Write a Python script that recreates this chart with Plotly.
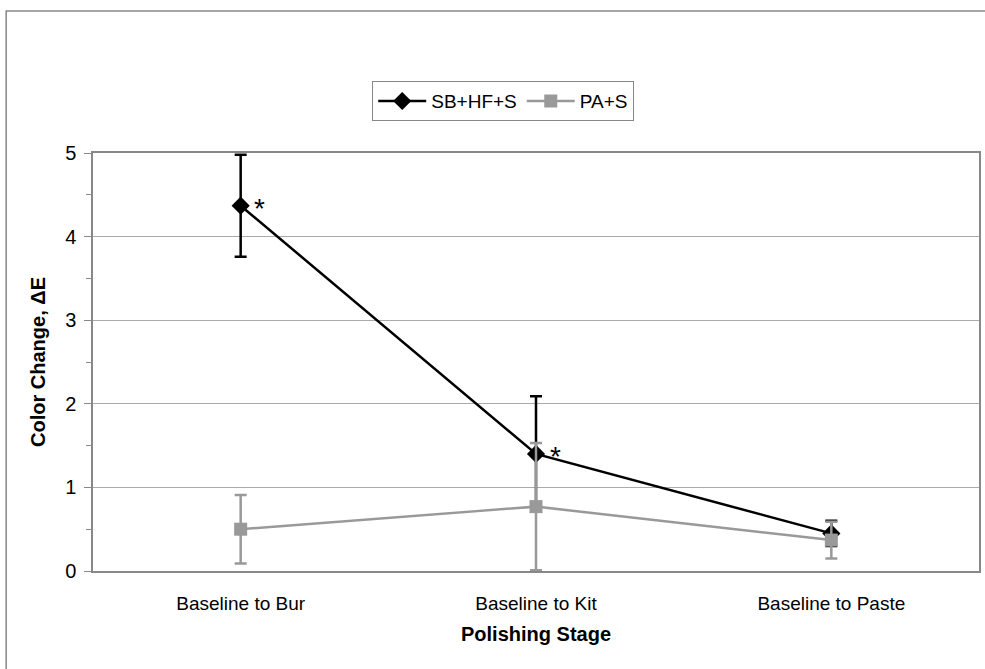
import plotly.graph_objects as go

categories = ["Baseline to Bur", "Baseline to Kit", "Baseline to Paste"]
sb_values = [4.37, 1.40, 0.45]
sb_errors = [0.61, 0.69, 0.15]
pa_values = [0.50, 0.77, 0.37]
pa_errors = [0.41, 0.76, 0.22]
sig_marks = ["*", "*", ""]
y_ticks = [0, 1, 2, 3, 4, 5]

FONT = "Liberation Sans, Arial, sans-serif"
GRAY = "#999999"

fig = go.Figure()
fig.add_trace(go.Scatter(
    x=categories, y=sb_values, name="SB+HF+S", mode="lines+markers",
    line=dict(color="black", width=2.5),
    marker=dict(symbol="diamond", size=14, color="black"),
    error_y=dict(type="data", array=sb_errors, visible=True, color="black", thickness=2.5, width=6),
))
fig.add_trace(go.Scatter(
    x=categories, y=pa_values, name="PA+S", mode="lines+markers",
    line=dict(color=GRAY, width=2.5),
    marker=dict(symbol="square", size=13, color=GRAY),
    error_y=dict(type="data", array=pa_errors, visible=True, color=GRAY, thickness=2.5, width=6),
))

for c, v, m in zip(categories, sb_values, sig_marks):
    if m:
        fig.add_annotation(x=c, y=v, text=m, showarrow=False, xshift=19, yshift=-3,
                           font=dict(family=FONT, size=28, color="black"))

# outer frame
fig.add_shape(type="rect", xref="paper", yref="paper", x0=-0.098, x1=1.2, y0=-0.6, y1=1.34,
              line=dict(color="#888888", width=1.5), layer="below")

fig.update_layout(
    width=985, height=669,
    margin=dict(l=93, r=4, t=153, b=98),
    paper_bgcolor="white", plot_bgcolor="white",
    font=dict(family=FONT, size=19, color="black"),
    showlegend=True,
    legend=dict(orientation="h", x=0.463, y=1.124, xanchor="center", yanchor="middle",
                bordercolor="#888888", borderwidth=1, font=dict(size=19),
                itemwidth=48, traceorder="normal"),
    xaxis=dict(
        range=[-0.5, 2.5], showgrid=False, showline=True, linecolor="#888888", linewidth=1.5,
        mirror=True, ticks="", tickfont=dict(size=19), ticklabelstandoff=14,
        title=dict(text="<b>Polishing Stage</b>", font=dict(size=20), standoff=14),
    ),
    yaxis=dict(
        range=[0, 5], tickvals=y_ticks, showgrid=True, gridcolor="#aaaaaa", gridwidth=1,
        showline=True, linecolor="#888888", linewidth=1.5, mirror=True,
        ticks="outside", ticklen=7, tickcolor="#888888", tickfont=dict(size=20), zeroline=False,
        ticklabelstandoff=4,
        minor=dict(dtick=0.5, ticks="outside", ticklen=5, tickcolor="#888888", showgrid=False),
        title=dict(text="<b>Color Change, ΔE</b>", font=dict(size=20), standoff=14),
    ),
)

fig.write_html("out.html", config={"displayModeBar": False},
               post_script="document.body.style.margin='0';document.body.style.overflow='hidden';")
